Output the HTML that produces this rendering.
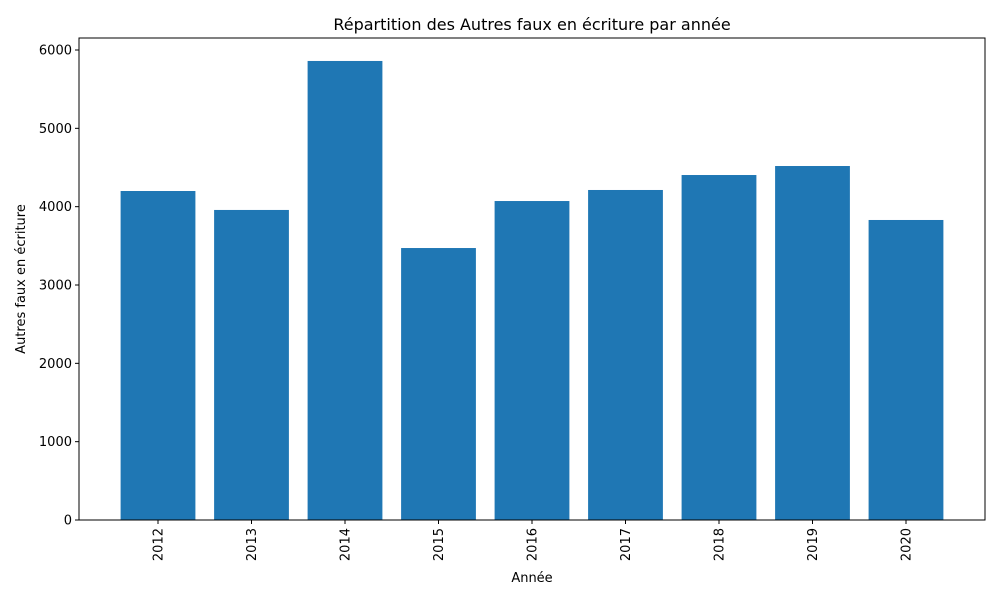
<!DOCTYPE html>
<html><head><meta charset="utf-8"><style>
body{margin:0;background:#fff;font-family:"Liberation Sans","DejaVu Sans",sans-serif;}
svg text{font-family:"DejaVu Sans","Liberation Sans",sans-serif;}
</style></head><body>
<svg id="chart" width="1000" height="600" xmlns="http://www.w3.org/2000/svg">
<rect width="1000" height="600" fill="#fff"/>
<text x="532" y="30" font-size="16" text-anchor="middle">Répartition des Autres faux en écriture par année</text>
<g id="bars"></g>
<g id="axes"></g>
<rect x="79" y="38" width="906" height="482" fill="none" stroke="#000" stroke-width="1"/>
<text x="532" y="582" font-size="13" text-anchor="middle">Année</text>
<text transform="translate(25,279) rotate(-90)" font-size="13" text-anchor="middle">Autres faux en écriture</text>
</svg>
<script>
const categories=["2012","2013","2014","2015","2016","2017","2018","2019","2020"];
const values=[4200,3958,5860,3472,4072,4213,4404,4519,3830];
const yTicks=[0,1000,2000,3000,4000,5000,6000];
const ns="http://www.w3.org/2000/svg";
const L=79,R=985,B=520,T=38;
function y(v){return B-v*(470/6000);}
const step=(R-L)/(categories.length-1+1.69);
function x(i){return L+step*(0.845+i);}
const bw=step*0.8;
const bars=document.getElementById('bars'),axes=document.getElementById('axes');
function mk(t,a,p){const e=document.createElementNS(ns,t);for(const k in a)e.setAttribute(k,a[k]);p.appendChild(e);return e;}
categories.forEach((c,i)=>{
 const r=mk('rect',{x:x(i)-bw/2,y:y(values[i]),width:bw,height:B-y(values[i]),fill:'#1f77b4'},bars);
 
 
 const tk=mk('line',{x1:x(i),x2:x(i),y1:B,y2:B+4,stroke:'#000'},axes);
 
 
 const t=mk('text',{transform:`translate(${x(i)+4.5},${B+8}) rotate(-90)`,'font-size':13,'text-anchor':'end'},axes);
 t.textContent=c;
 
 
});
yTicks.forEach(v=>{
 const tk=mk('line',{x1:L-4,x2:L,y1:y(v),y2:y(v),stroke:'#000'},axes);
 
 
 const t=mk('text',{x:L-7,y:y(v)+4.5,'font-size':13,'text-anchor':'end'},axes);
 t.textContent=v;
 
 
});
</script>
</body></html>
